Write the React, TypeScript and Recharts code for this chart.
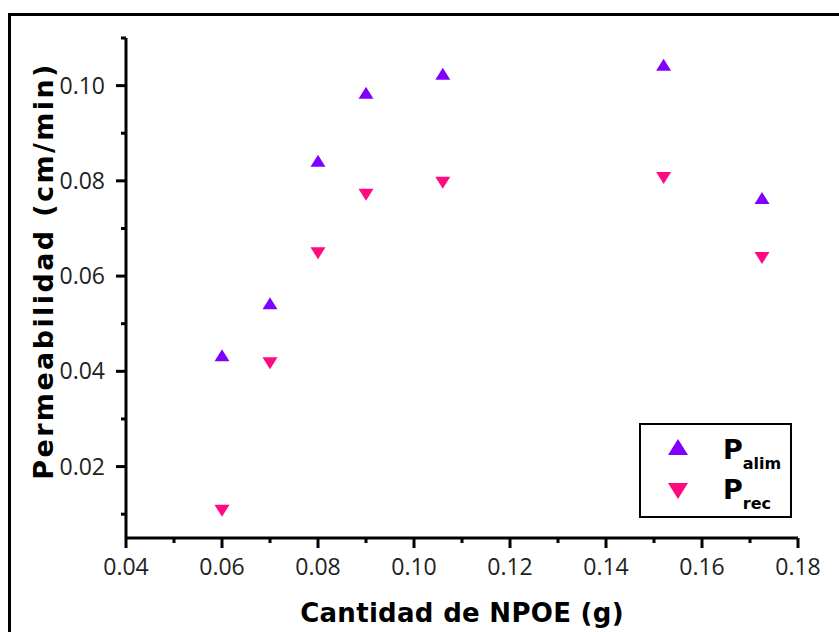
import React from 'react';
import { ScatterChart, Scatter, XAxis, YAxis, Legend, Label } from 'recharts';

// Cantidad de NPOE (g)
const npoe = [0.06, 0.07, 0.08, 0.09, 0.106, 0.152, 0.1725];
// permeabilidad (cm/min)
const pAlim = [0.0434, 0.0543, 0.0842, 0.0985, 0.1025, 0.1044, 0.0764];
const pRec = [0.0107, 0.0417, 0.0648, 0.0771, 0.0796, 0.0806, 0.0638];

const xTicks = [0.04, 0.05, 0.06, 0.07, 0.08, 0.09, 0.1, 0.11, 0.12, 0.13, 0.14, 0.15, 0.16, 0.17, 0.18];
const yTicks = [0.01, 0.02, 0.03, 0.04, 0.05, 0.06, 0.07, 0.08, 0.09, 0.1, 0.11];

const alimData = npoe.map((x, i) => ({ x, y: pAlim[i] }));
const recData = npoe.map((x, i) => ({ x, y: pRec[i] }));

const PURPLE = '#8000ff';
const PINK = '#ff0a80';
const TICK_FONT = '"Open Sans", sans-serif';
const LABEL_FONT = '"DejaVu Sans", sans-serif';

const isMajor = (v: number) => Math.round(v * 100) % 2 === 0;

const UpTri = ({ cx, cy }: any) => (
  <polygon points={`${cx - 7.5},${cy + 6} ${cx + 7.5},${cy + 6} ${cx},${cy - 6}`} fill={PURPLE} />
);
const DownTri = ({ cx, cy }: any) => (
  <polygon points={`${cx - 7.5},${cy - 6} ${cx + 7.5},${cy - 6} ${cx},${cy + 6}`} fill={PINK} />
);

const XTick = ({ x, y, payload }: any) => {
  const major = isMajor(payload.value);
  return (
    <g>
      <line x1={x} x2={x} y1={y} y2={y + (major ? 10 : 5)} stroke="#000" strokeWidth={3} />
      {major && (
        <text x={x} y={y + 37} textAnchor="middle" fontFamily={TICK_FONT} fontSize={23} fill="#222">
          {payload.value.toFixed(2)}
        </text>
      )}
    </g>
  );
};

const YTick = ({ x, y, payload }: any) => {
  const major = isMajor(payload.value);
  return (
    <g>
      <line x1={x - (major ? 10 : 5)} x2={x} y1={y} y2={y} stroke="#000" strokeWidth={3} />
      {major && (
        <text x={x - 21} y={y + 8} textAnchor="end" fontFamily={TICK_FONT} fontSize={23} fill="#222">
          {payload.value.toFixed(2)}
        </text>
      )}
    </g>
  );
};

const LegendBox = () => (
  <div
    style={{
      width: 153,
      height: 95,
      boxSizing: 'border-box',
      border: '2px solid #000',
      background: '#fff',
      position: 'relative',
      fontFamily: LABEL_FONT,
      fontWeight: 'bold',
      color: '#000',
    }}
  >
    <svg width={40} height={90} style={{ position: 'absolute', left: 19, top: 0 }}>
      <polygon points="8,30 28,30 18,14" fill={PURPLE} />
      <polygon points="8,58 28,58 18,74" fill={PINK} />
    </svg>
    <div style={{ position: 'absolute', left: 82, top: 10, fontSize: 27, lineHeight: '30px' }}>
      P<span style={{ fontSize: 16, position: 'relative', top: 10 }}>alim</span>
    </div>
    <div style={{ position: 'absolute', left: 82, top: 50, fontSize: 27, lineHeight: '30px' }}>
      P<span style={{ fontSize: 16, position: 'relative', top: 10 }}>rec</span>
    </div>
  </div>
);

export default function App() {
  return (
    <div style={{ position: 'fixed', left: 0, top: 0, width: 839, height: 632, overflow: 'hidden', background: '#fff' }}>
      <div
        style={{
          position: 'absolute',
          left: 8,
          top: 13,
          width: 1200,
          height: 1200,
          borderLeft: '3px solid #000',
          borderTop: '3px solid #000',
        }}
      />
      <div style={{ position: 'absolute', left: 8, top: 8 }}>
        <ScatterChart width={823} height={624} margin={{ top: 30, right: 33, bottom: 14, left: 0 }}>
          <XAxis
            type="number"
            dataKey="x"
            domain={[0.04, 0.18]}
            ticks={xTicks}
            interval={0}
            tickSize={0}
            tickMargin={0}
            tickLine={false}
            tick={<XTick />}
            axisLine={{ stroke: '#000', strokeWidth: 3 }}
            height={80}
            allowDataOverflow
          >
            <Label
              content={() => (
                <text
                  x={454}
                  y={614}
                  textAnchor="middle"
                  fontFamily={LABEL_FONT}
                  fontWeight="bold"
                  fontSize={26}
                  letterSpacing={0.3}
                  fill="#000"
                >
                  Cantidad de NPOE (g)
                </text>
              )}
            />
          </XAxis>
          <YAxis
            type="number"
            dataKey="y"
            domain={[0.005, 0.11]}
            ticks={yTicks}
            interval={0}
            tickSize={0}
            tickMargin={0}
            tickLine={false}
            tick={<YTick />}
            axisLine={{ stroke: '#000', strokeWidth: 3 }}
            width={118}
            allowDataOverflow
          >
            <Label
              content={() => (
                <text
                  x={45}
                  y={263}
                  transform="rotate(-90 45 263)"
                  textAnchor="middle"
                  fontFamily={LABEL_FONT}
                  fontWeight="bold"
                  fontSize={27}
                  letterSpacing={2.4}
                  fill="#000"
                >
                  Permeabilidad (cm/min)
                </text>
              )}
            />
          </YAxis>
          <Legend
            layout="vertical"
            align="center"
            verticalAlign="middle"
            content={() => <LegendBox />}
            wrapperStyle={{ position: 'absolute', left: 631, top: 415, width: 153, height: 95 }}
          />
          <Scatter name="Palim" data={alimData} shape={<UpTri />} isAnimationActive={false} />
          <Scatter name="Prec" data={recData} shape={<DownTri />} isAnimationActive={false} />
        </ScatterChart>
      </div>
    </div>
  );
}
